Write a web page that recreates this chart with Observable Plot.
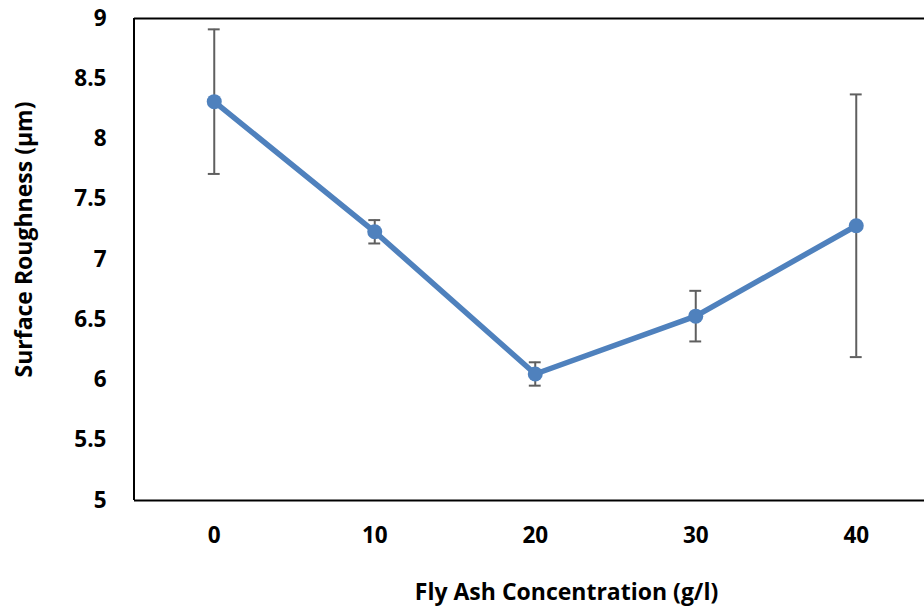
<!DOCTYPE html>
<html>
<head>
<meta charset="utf-8">
<script src="https://cdn.jsdelivr.net/npm/d3@7"></script>
<script src="https://cdn.jsdelivr.net/npm/@observablehq/plot@0.6"></script>
<style>
  html, body { margin: 0; padding: 0; background: #fff; }
  #chart svg { display: block; }
</style>
</head>
<body>
<div id="chart"></div>
<script>
const concentration = [0, 10, 20, 30, 40];
const roughness = [8.31, 7.23, 6.05, 6.53, 7.28];
const stdError = [0.60, 0.097, 0.097, 0.21, 1.09];
const yTicks = [5, 5.5, 6, 6.5, 7, 7.5, 8, 8.5, 9];
const xTicks = [0, 10, 20, 30, 40];
const xLabel = "Fly Ash Concentration (g/l)";
const yLabel = "Surface Roughness (µm)";

const data = concentration.map((c, i) => ({
  c, r: roughness[i], lo: roughness[i] - stdError[i], hi: roughness[i] + stdError[i]
}));

const capHalf = 0.37;
const font = "'Open Sans', 'Noto Sans', sans-serif";

const chart = Plot.plot({
  width: 924,
  height: 610,
  marginLeft: 134,
  marginRight: 0,
  marginTop: 18,
  marginBottom: 110,
  style: { fontFamily: font, fontSize: "22px", color: "#000", background: "#fff", overflow: "visible" },
  x: { type: "linear", domain: [-5, 45], range: [133.5, 936] },
  y: { domain: [5, 9], range: [500, 18] },
  marks: [
    Plot.ruleX([-5], { stroke: "#000", strokeWidth: 2 }),
    Plot.ruleY([9], { stroke: "#000", strokeWidth: 2 }),
    Plot.ruleY([5], { stroke: "#000", strokeWidth: 2 }),
    Plot.axisY({ ticks: yTicks, tickSize: 0, tickPadding: 28, tickFormat: d => String(d), label: null, fontSize: 22.5, fontWeight: "bold" }),
    Plot.axisX({ ticks: xTicks, tickSize: 0, tickPadding: 27, tickFormat: d => String(d), label: null, fontSize: 22.5, fontWeight: "bold" }),
    Plot.ruleX(data, { x: "c", y1: "lo", y2: "hi", stroke: "#5f5f5f", strokeWidth: 2 }),
    Plot.ruleY(data, { y: "hi", x1: d => d.c - capHalf, x2: d => d.c + capHalf, stroke: "#5f5f5f", strokeWidth: 2 }),
    Plot.ruleY(data, { y: "lo", x1: d => d.c - capHalf, x2: d => d.c + capHalf, stroke: "#5f5f5f", strokeWidth: 2 }),
    Plot.line(data, { x: "c", y: "r", stroke: "#4F81BD", strokeWidth: 5.5 }),
    Plot.dot(data, { x: "c", y: "r", r: 7.5, fill: "#4F81BD", stroke: "none" }),
    Plot.text([yLabel], { frameAnchor: "left", rotate: -90, dx: -110, dy: -20, fontSize: 23, fontWeight: "bold", lineAnchor: "middle", textAnchor: "middle" }),
    Plot.text([xLabel], { frameAnchor: "bottom", dx: 37, dy: 92, fontSize: 23, fontWeight: "bold", lineAnchor: "middle", textAnchor: "middle" })
  ]
});
document.getElementById("chart").appendChild(chart);
</script>
</body>
</html>
